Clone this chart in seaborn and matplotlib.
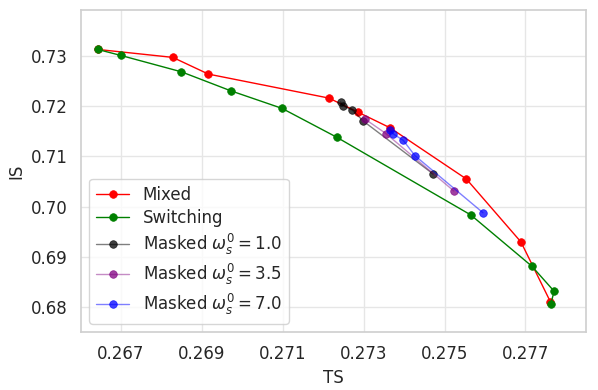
import pandas as pd
import numpy as np
import seaborn as sns
import matplotlib
matplotlib.use("Agg")
import matplotlib.pyplot as plt

# TS / IS values
mixed_ts = [0.26642, 0.26828, 0.26916, 0.27214, 0.27287, 0.27365, 0.27554, 0.27689, 0.27762]
mixed_is = [0.73133, 0.72974, 0.72641, 0.72163, 0.71878, 0.71572, 0.70550, 0.69295, 0.68100]

switch_ts = [0.26642, 0.26699, 0.26849, 0.26971, 0.27098, 0.27234, 0.27565, 0.27716, 0.27771, 0.27763]
switch_is = [0.73133, 0.73014, 0.72687, 0.72309, 0.71958, 0.71380, 0.69833, 0.68811, 0.68313, 0.68060]

m1_ts = [0.27243, 0.27248, 0.27272, 0.27299, 0.27472]
m1_is = [0.72084, 0.72014, 0.71924, 0.71705, 0.70649]

m35_ts = [0.27304, 0.27355, 0.27523]
m35_is = [0.71741, 0.71456, 0.70311]

m7_ts = [0.27365, 0.27372, 0.27398, 0.27427, 0.27595]
m7_is = [0.71536, 0.71456, 0.71319, 0.71014, 0.69878]

x_ticks = [0.267, 0.269, 0.271, 0.273, 0.275, 0.277]
y_ticks = [0.68, 0.69, 0.70, 0.71, 0.72, 0.73]

sns.set_theme(style="whitegrid")
plt.rcParams["font.size"] = 12
plt.rcParams["axes.labelsize"] = 12
plt.rcParams["xtick.labelsize"] = 12
plt.rcParams["ytick.labelsize"] = 12
plt.rcParams["legend.fontsize"] = 12

fig, ax = plt.subplots(figsize=(5.98, 3.9), dpi=100)
fig.subplots_adjust(left=0.1355, right=0.98, bottom=0.149, top=0.974)

series = [
    ("Mixed", mixed_ts, mixed_is, (1, 0, 0), 1.0, 1.0),
    ("Switching", switch_ts, switch_is, (0, 0.5, 0), 1.0, 1.0),
    (r"Masked $\omega_s^0 = 1.0$", m1_ts, m1_is, (0, 0, 0), 0.5, 0.75),
    (r"Masked $\omega_s^0 = 3.5$", m35_ts, m35_is, (0.5, 0, 0.5), 0.45, 0.75),
    (r"Masked $\omega_s^0 = 7.0$", m7_ts, m7_is, (0, 0, 1), 0.5, 0.75),
]

for label, xs, ys, col, line_a, mark_a in series:
    df = pd.DataFrame({"TS": xs, "IS": ys})
    sns.lineplot(data=df, x="TS", y="IS", sort=False, estimator=None, ax=ax,
                 label=label, color=col + (line_a,), lw=1.0, marker="o", markersize=5.5,
                 markerfacecolor=col + (mark_a,), markeredgecolor=col + (mark_a,),
                 markeredgewidth=0.5)

ax.set_xticks(x_ticks)
ax.set_xticklabels([f"{t:.3f}" for t in x_ticks])
ax.set_yticks(y_ticks)
ax.set_yticklabels([f"{t:.2f}" for t in y_ticks])
ax.set_xlim(0.26601, 0.2785)
ax.set_ylim(0.67502, 0.73916)
ax.set_xlabel("TS")
ax.set_ylabel("IS")
ax.grid(color="#e6e6e6")
for s in ax.spines.values():
    s.set_color("#d0d0d0")

ax.legend(loc="lower left", labelspacing=0.3)

plt.savefig("out.png", dpi=100)
